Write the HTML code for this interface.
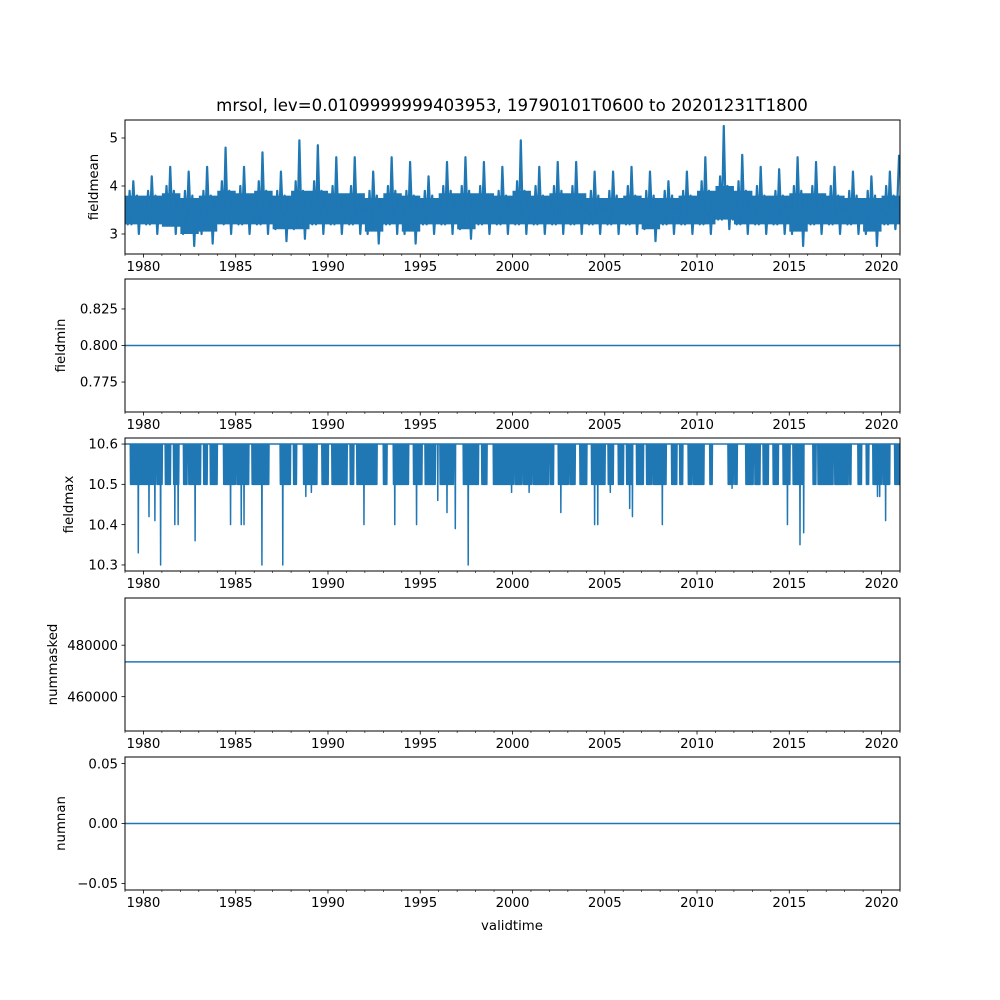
<!DOCTYPE html>
<html><head><meta charset="utf-8"><style>
html,body{margin:0;padding:0;background:#fff;}
svg{display:block;font-family:"DejaVu Sans","Liberation Sans",sans-serif;}
</style></head><body>
<svg id="fig" width="1000" height="1000" viewBox="0 0 1000 1000">
<rect width="1000" height="1000" fill="#fff"/>
<text x="512" y="111" font-size="16.6" text-anchor="middle" fill="#000">mrsol, lev=0.0109999999403953, 19790101T0600 to 20201231T1800</text>
<text x="512" y="930" font-size="13.3" text-anchor="middle" fill="#000">validtime</text>
</svg>
<script>
// ---- data ----
const xStart = 1979.0, xEnd = 2021.0;
const xTickYears = [1980,1985,1990,1995,2000,2005,2010,2015,2020];
const panelNames = ["fieldmean","fieldmin","fieldmax","nummasked","numnan"];
const meanByYear = [
[3.5,3.2,3.9,3.2,4.1,3.4,3.8,3.0,3.6,3.3],
[3.5,3.2,3.9,3.2,4.2,3.4,3.8,3.0,3.6,3.3],
[3.5,3.3,4.0,3.2,4.4,3.4,3.9,3.0,3.7,3.3],
[3.5,3.0,3.9,3.2,4.3,3.4,3.8,2.75,3.6,3.2],
[3.5,3.0,3.9,3.2,4.4,3.4,3.8,2.8,3.6,3.3],
[3.6,3.3,4.1,3.2,4.8,3.4,3.9,3.0,3.7,3.3],
[3.5,3.2,4.0,3.2,4.4,3.4,3.8,3.0,3.6,3.3],
[3.6,3.2,4.1,3.2,4.7,3.4,3.9,3.0,3.7,3.3],
[3.5,3.1,3.9,3.2,4.3,3.4,3.8,2.85,3.6,3.3],
[3.6,3.1,4.1,3.2,4.95,3.4,3.9,2.9,3.7,3.3],
[3.6,3.2,4.1,3.2,4.85,3.4,3.9,3.0,3.7,3.3],
[3.5,3.2,4.0,3.2,4.6,3.4,3.8,3.0,3.6,3.3],
[3.5,3.2,4.0,3.2,4.6,3.4,3.8,3.0,3.6,3.3],
[3.5,3.0,3.9,3.2,4.3,3.4,3.8,2.8,3.6,3.2],
[3.6,3.2,4.0,3.2,4.6,3.4,3.9,3.0,3.7,3.3],
[3.5,3.0,3.9,3.2,4.5,3.4,3.8,2.8,3.6,3.3],
[3.5,3.2,3.9,3.2,4.2,3.4,3.8,3.0,3.6,3.3],
[3.6,3.2,4.0,3.2,4.5,3.4,3.9,3.0,3.7,3.3],
[3.6,3.1,4.0,3.2,4.6,3.4,3.9,2.9,3.7,3.3],
[3.5,3.2,4.0,3.2,4.5,3.4,3.8,3.0,3.6,3.3],
[3.5,3.2,3.9,3.2,4.4,3.4,3.8,3.0,3.6,3.3],
[3.6,3.2,4.1,3.2,4.95,3.4,3.9,3.0,3.7,3.3],
[3.5,3.2,4.0,3.2,4.4,3.4,3.8,3.0,3.6,3.3],
[3.6,3.2,4.0,3.2,4.5,3.4,3.9,3.0,3.7,3.3],
[3.6,3.2,4.0,3.2,4.5,3.4,3.8,3.0,3.6,3.3],
[3.5,3.2,3.9,3.2,4.3,3.4,3.8,3.0,3.6,3.3],
[3.5,3.2,3.9,3.2,4.3,3.4,3.8,3.0,3.6,3.3],
[3.5,3.2,4.0,3.2,4.4,3.4,3.8,3.0,3.6,3.3],
[3.5,3.1,3.9,3.2,4.3,3.4,3.8,2.85,3.6,3.3],
[3.5,3.2,3.9,3.2,4.1,3.4,3.8,3.0,3.6,3.3],
[3.5,3.2,3.9,3.2,4.3,3.4,3.8,3.0,3.6,3.3],
[3.6,3.2,4.1,3.2,4.6,3.4,3.9,3.0,3.7,3.3],
[3.6,3.3,4.2,3.3,5.25,3.5,4.0,3.1,3.7,3.3],
[3.6,3.2,4.1,3.2,4.65,3.4,3.9,3.0,3.7,3.3],
[3.5,3.2,4.0,3.2,4.4,3.4,3.8,3.0,3.6,3.3],
[3.5,3.2,3.9,3.2,4.35,3.4,3.8,3.0,3.6,3.3],
[3.6,3.0,4.0,3.2,4.6,3.4,3.9,2.75,3.7,3.3],
[3.6,3.2,4.0,3.2,4.5,3.4,3.8,3.0,3.6,3.3],
[3.5,3.2,4.0,3.2,4.4,3.4,3.8,3.0,3.6,3.3],
[3.5,3.2,3.9,3.2,4.3,3.4,3.8,3.0,3.6,3.3],
[3.5,3.0,3.9,3.2,4.2,3.4,3.8,2.75,3.6,3.3],
[3.5,3.2,4.0,3.2,4.3,3.4,3.8,3.1,3.6,4.65]
];
// dense daily band envelope (per year)
const bandLow  = [3.2,3.2,3.15,3.0,3.05,3.2,3.2,3.2,3.1,3.1,3.2,3.2,3.2,3.05,3.2,3.05,3.2,3.2,3.1,3.2,3.2,3.2,3.2,3.2,3.2,3.2,3.2,3.2,3.1,3.2,3.2,3.2,3.3,3.2,3.2,3.2,3.05,3.2,3.2,3.2,3.05,3.2];
const bandHigh = [3.8,3.8,3.85,3.75,3.8,3.9,3.85,3.9,3.8,3.9,3.9,3.85,3.85,3.75,3.85,3.8,3.75,3.85,3.85,3.85,3.8,3.9,3.8,3.85,3.85,3.75,3.75,3.8,3.75,3.75,3.8,3.9,4.0,3.9,3.8,3.8,3.85,3.85,3.8,3.75,3.75,3.8];
const fieldminValue = 0.8;
const maxBaseline = 10.6;
const maxBlockStart = [1979.30,1980.74,1981.19,1981.64,1982.18,1982.46,1983.27,1983.63,1984.35,1985.07,1985.89,1987.42,1988.14,1988.68,1989.68,1990.22,1991.21,1991.57,1993.01,1993.55,1994.64,1995.27,1996.08,1997.34,1998.34,1998.97,1999.33,2000.14,2000.59,2001.13,2002.04,2002.49,2003.12,2003.66,2004.29,2005.19,2005.74,2006.19,2006.73,2007.27,2007.63,2008.17,2008.63,2009.07,2009.53,2009.80,2010.70,2011.69,2012.05,2012.65,2013.14,2013.59,2014.13,2014.67,2015.21,2016.29,2016.56,2017.47,2018.28,2018.73,2019.18,2019.54,2020.08,2020.72];
const maxBlockEnd   = [1980.65,1981.01,1981.46,1981.91,1982.37,1983.09,1983.45,1983.99,1984.98,1985.70,1986.79,1987.96,1988.32,1989.41,1990.03,1991.03,1991.39,1992.65,1993.20,1994.37,1995.09,1995.81,1996.80,1998.16,1998.61,1999.42,2000.05,2000.50,2001.05,2001.95,2002.22,2003.03,2003.39,2004.02,2005.01,2005.46,2006.01,2006.46,2007.09,2007.54,2008.08,2008.35,2008.90,2009.22,2009.71,2010.37,2010.83,2011.96,2012.18,2013.04,2013.41,2013.86,2014.40,2015.03,2015.75,2016.44,2017.38,2018.19,2018.37,2018.91,2019.32,2019.99,2020.45,2021.0];
const maxBlockLow = 10.5;
const dipYears  = [1979.72,1980.30,1980.62,1980.93,1981.70,1981.88,1982.80,1984.72,1985.30,1985.45,1986.42,1987.55,1988.80,1991.95,1993.62,1994.80,1995.95,1996.45,1996.90,1997.60,2002.62,2004.45,2004.62,2006.35,2006.50,2008.12,2014.90,2015.58,2015.78,2019.78,2020.22,1989.10,1999.95,2000.90,2005.30,2011.90,2019.90];
const dipValues = [10.33,10.42,10.41,10.30,10.40,10.40,10.36,10.40,10.40,10.40,10.30,10.30,10.47,10.40,10.40,10.40,10.46,10.43,10.39,10.30,10.43,10.40,10.40,10.44,10.42,10.40,10.40,10.35,10.38,10.47,10.41,10.48,10.48,10.48,10.48,10.49,10.47];
const nummaskedValue = 473500;
const numnanValue = 0;

// ---- layout ----
const NS="http://www.w3.org/2000/svg";
const svg=document.getElementById('fig');
const L=125, R=900;
const panels=[
 {top:120,bottom:254,ymin:2.583,ymax:5.375,ticks:[3,4,5],labels:["3","4","5"]},
 {top:279,bottom:412,ymin:0.7545,ymax:0.8455,ticks:[0.775,0.8,0.825],labels:["0.775","0.800","0.825"]},
 {top:438,bottom:571,ymin:10.285,ymax:10.615,ticks:[10.3,10.4,10.5,10.6],labels:["10.3","10.4","10.5","10.6"]},
 {top:598,bottom:731,ymin:446660,ymax:498340,ticks:[460000,480000],labels:["460000","480000"]},
 {top:757,bottom:890,ymin:-0.0555,ymax:0.0555,ticks:[-0.05,0,0.05],labels:["\u22120.05","0.00","0.05"]}
];
function xs(t){return L+(t-xStart)/(xEnd-xStart)*(R-L);}
function mk(tag,attrs,parent){const e=document.createElementNS(NS,tag);for(const k in attrs)e.setAttribute(k,attrs[k]);(parent||svg).appendChild(e);return e;}
const C="#1f77b4";

panels.forEach((p,i)=>{
  const ys=v=>p.bottom-(v-p.ymin)/(p.ymax-p.ymin)*(p.bottom-p.top);
  const g=mk('g',{});
  
  
  const clipId='clip'+i;
  const cp=mk('clipPath',{id:clipId},g);
  mk('rect',{x:L,y:p.top,width:R-L,height:p.bottom-p.top},cp);
  const dg=mk('g',{'clip-path':'url(#'+clipId+')'},g);
  let pts=[];
  if(i===0){
    const top=[],bot=[];
    bandHigh.forEach((v,yi)=>{top.push([xs(xStart+yi),ys(v)]);top.push([xs(xStart+yi+1),ys(v)]);});
    bandLow.forEach((v,yi)=>{bot.push([xs(xStart+yi),ys(v)]);bot.push([xs(xStart+yi+1),ys(v)]);});
    const poly=top.concat(bot.reverse());
    const band=mk('polygon',{points:poly.map(q=>q[0].toFixed(2)+','+q[1].toFixed(2)).join(' '),fill:C,stroke:'none'},dg);
    
    
    meanByYear.forEach((row,yi)=>row.forEach((v,k)=>{const t=xStart+(yi*10+k+0.5)/10;pts.push([xs(t),ys(v)]);}));
  } else if(i===1){pts=[[L,ys(fieldminValue)],[R,ys(fieldminValue)]];}
  else if(i===2){
    const ev=[];
    maxBlockStart.forEach((s,j)=>{for(let t=s;t<maxBlockEnd[j];t+=0.03){ev.push([t,maxBlockLow]);ev.push([t+0.015,maxBaseline]);}});
    dipYears.forEach((t,j)=>ev.push([t,dipValues[j]]));
    ev.sort((a,b)=>a[0]-b[0]);
    pts.push([xs(xStart),ys(maxBaseline)]);
    ev.forEach(e=>{const x=xs(e[0]);pts.push([x-0.3,ys(maxBaseline)]);pts.push([x,ys(e[1])]);pts.push([x+0.3,ys(maxBaseline)]);});
    pts.push([xs(xEnd),ys(maxBaseline)]);
  } else if(i===3){pts=[[L,ys(nummaskedValue)],[R,ys(nummaskedValue)]];}
  else {pts=[[L,ys(numnanValue)],[R,ys(numnanValue)]];}
  const line=mk('polyline',{points:pts.map(q=>q[0].toFixed(2)+','+q[1].toFixed(2)).join(' '),fill:'none',stroke:C,'stroke-width':i===0?2.2:1.5,'stroke-linejoin':'round'},dg);
  
  
  const fr=mk('rect',{x:L,y:p.top,width:R-L,height:p.bottom-p.top,fill:'none',stroke:'#000','stroke-width':1},g);
  
  
  p.ticks.forEach((tv,k)=>{
    const y=ys(tv);
    mk('line',{x1:L-3.5,x2:L,y1:y,y2:y,stroke:'#000','stroke-width':0.8},g);
    const tx=mk('text',{x:L-7,y:y+4.7,'font-size':13.3,'text-anchor':'end',fill:'#000'},g);
    tx.textContent=p.labels[k];
    
    
  });
  const widest=Math.max(...p.labels.map(s=>s.length));
  const yx=L-7-widest*8.2-12;
  const yt=mk('text',{x:yx,y:(p.top+p.bottom)/2,'font-size':13.3,'text-anchor':'middle',fill:'#000',transform:'rotate(-90 '+yx+' '+(p.top+p.bottom)/2+')'},g);
  yt.textContent=panelNames[i];
  
  
  for(let yr=1979;yr<=2021;yr++){
    const x=xs(yr);
    const major=xTickYears.includes(yr);
    mk('line',{x1:x,x2:x,y1:p.bottom,y2:p.bottom+(major?3.5:2),stroke:'#000','stroke-width':major?0.8:0.6},g);
  }
  xTickYears.forEach(yr=>{
    const tx=mk('text',{x:xs(yr),y:p.bottom+17,'font-size':13.3,'text-anchor':'middle',fill:'#000'},g);
    tx.textContent=String(yr);
    
    
  });
});
</script>
</body></html>
